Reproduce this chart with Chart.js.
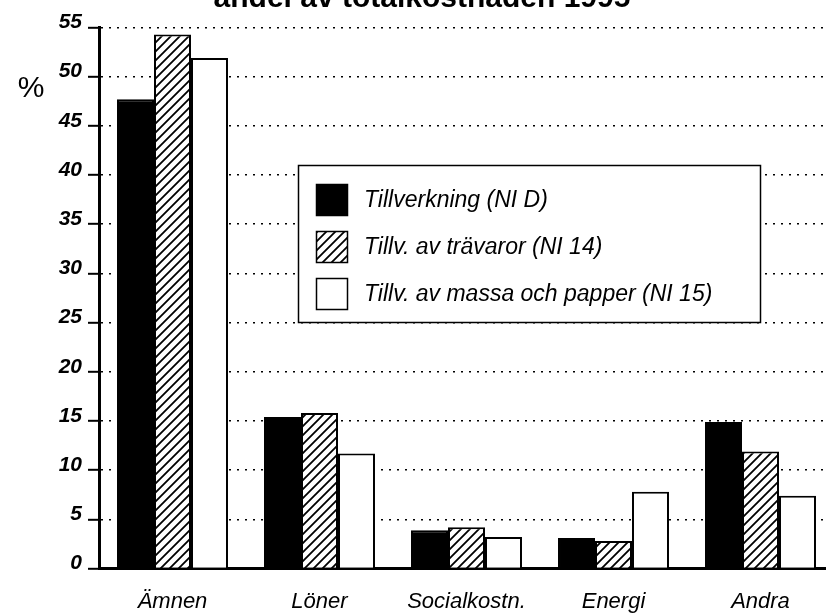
<!DOCTYPE html>
<html>
<head>
<meta charset="utf-8">
<script src="https://cdn.jsdelivr.net/npm/chart.js@4/dist/chart.umd.min.js"></script>
<style>
html,body{margin:0;padding:0;overflow:hidden;background:#fff;width:826px;height:614px}
#wrap{position:absolute;left:0;top:0;width:840px;height:614px}
</style>
</head>
<body>
<div id="wrap"><canvas id="c" width="840" height="614"></canvas></div>
<script>
// ---- data ----
const titleText = 'andel av totalkostnaden 1995';
const yUnitLabel = '%';
const categories = ['Ämnen', 'Löner', 'Socialkostn.', 'Energi', 'Andra'];
const seriesNames = ['Tillverkning (NI D)', 'Tillv. av trävaror (NI 14)', 'Tillv. av massa och papper (NI 15)'];
const tillverkning = [47.7, 15.4, 3.9, 3.1, 14.9];
const travaror = [54.3, 15.8, 4.2, 2.8, 11.9];
const massaPapper = [51.9, 11.7, 3.2, 7.8, 7.4];
const yMin = 0, yMax = 55, yStep = 5;

const FONT = '"Liberation Sans", Arial, Helvetica, sans-serif';

function makeHatch() {
  const s = 9;
  const c = document.createElement('canvas');
  c.width = s; c.height = s;
  const x = c.getContext('2d');
  x.fillStyle = '#fff';
  x.fillRect(0, 0, s, s);
  x.strokeStyle = '#000';
  x.lineWidth = 1.8;
  x.beginPath();
  x.moveTo(-1, s + 1); x.lineTo(s + 1, -1);
  x.moveTo(-1, 1); x.lineTo(1, -1);
  x.moveTo(s - 1, s + 1); x.lineTo(s + 1, s - 1);
  x.stroke();
  return document.getElementById('c').getContext('2d').createPattern(c, 'repeat');
}
const hatch = makeHatch();

const decor = {
  id: 'decor',
  afterDraw(chart) {
    const ctx = chart.ctx;
    ctx.save();
    // title (top cut off, as in the reference)
    ctx.fillStyle = '#000';
    ctx.font = 'bold 30px ' + FONT;
    ctx.textAlign = 'center';
    ctx.textBaseline = 'alphabetic';
    ctx.fillText(titleText, 422, 7);
    // unit label
    ctx.font = '30px ' + FONT;
    ctx.textBaseline = 'middle';
    ctx.fillText(yUnitLabel, 31, 89);
    // legend
    const bx = 298.5, by = 165.5, bw = 462, bh = 157;
    ctx.fillStyle = '#fff';
    ctx.fillRect(bx, by, bw, bh);
    ctx.strokeStyle = '#000';
    ctx.lineWidth = 1.5;
    ctx.strokeRect(bx, by, bw, bh);
    ctx.font = 'italic 23px ' + FONT;
    ctx.textAlign = 'left';
    chart.data.datasets.forEach((ds, i) => {
      const sy = 184 + i * 47;
      ctx.fillStyle = ds.backgroundColor;
      ctx.fillRect(316, sy, 32, 32);
      ctx.strokeStyle = '#000';
      ctx.lineWidth = 1.5;
      ctx.strokeRect(316.5, sy + 0.5, 31, 31);
      ctx.fillStyle = '#000';
      ctx.fillText(ds.label, 364, sy + 17);
    });
    ctx.restore();
  }
};

new Chart(document.getElementById('c'), {
  type: 'bar',
  data: {
    labels: categories,
    datasets: [
      { label: seriesNames[0], data: tillverkning, backgroundColor: '#000', borderColor: '#000', borderWidth: 2 },
      { label: seriesNames[1], data: travaror, backgroundColor: hatch, borderColor: '#000', borderWidth: 2 },
      { label: seriesNames[2], data: massaPapper, backgroundColor: '#fff', borderColor: '#000', borderWidth: 2 }
    ]
  },
  options: {
    responsive: false,
    animation: false,
    layout: { padding: { left: 0, right: 6, top: 27.5, bottom: 0 } },
    plugins: { legend: { display: false }, title: { display: false }, tooltip: { enabled: false } },
    datasets: { bar: { categoryPercentage: 0.755, barPercentage: 1.0 } },
    scales: {
      x: {
        afterFit: s => { s.height = 45.5; },
        grid: { display: false },
        border: { display: true, color: '#000', width: 3 },
        ticks: { color: '#000', font: { family: FONT, size: 22, style: 'italic' }, padding: 12, maxRotation: 0, autoSkip: false }
      },
      y: {
        min: yMin, max: yMax,
        afterFit: s => { s.width = 99; },
        ticks: { stepSize: yStep, color: '#000', font: { family: FONT, size: 21, style: 'italic', weight: 'bold' }, padding: 6, labelOffset: -5 },
        grid: { display: true, color: '#000', lineWidth: 1.6, drawTicks: true, tickLength: 11, tickColor: '#000', tickWidth: 2, tickBorderDash: [] },
        border: { display: true, color: '#000', width: 3, dash: [2, 6] }
      }
    }
  },
  plugins: [decor]
});
</script>
</body>
</html>
